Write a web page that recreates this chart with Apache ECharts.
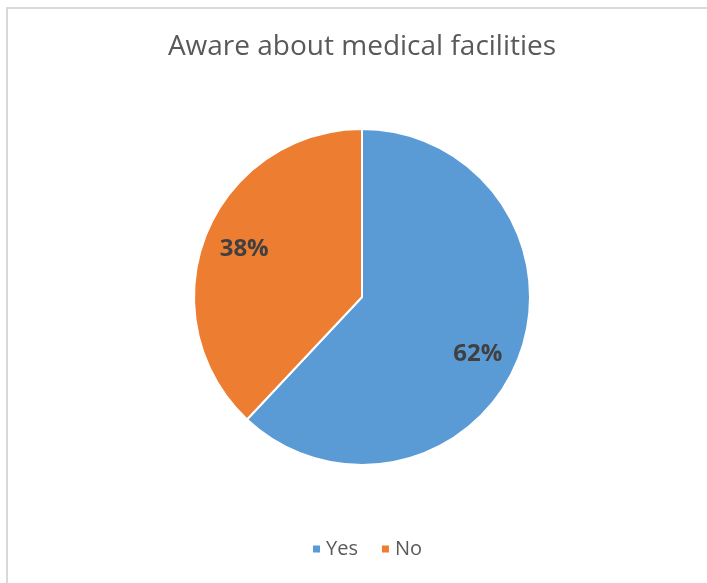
<!DOCTYPE html>
<html><head><meta charset="utf-8">
<script src="https://cdn.jsdelivr.net/npm/echarts@6/dist/echarts.min.js"></script>
<style>
html,body{margin:0;padding:0;background:#fff;}
#frame{position:absolute;left:6px;top:7px;width:720px;height:600px;border-left:2px solid #d9d9d9;border-top:2px solid #d9d9d9;}
#c{position:absolute;left:0;top:0;width:707px;height:583px;}
</style></head>
<body>
<div id="frame"></div>
<div id="c"></div>
<script>
const titleText = 'Aware about medical facilities';
const categories = ['Yes', 'No'];
const values = [62, 38];
const colors = ['#5B9BD5', '#ED7D31'];

const labelOffsets = [[-6, 9], [4, 0]];
const data = categories.map((n, i) => ({ name: n, value: values[i], itemStyle: { color: colors[i] } }));
const chart = echarts.init(document.getElementById('c'), null, { renderer: 'canvas' });
chart.setOption({
  animation: false,
  title: {
    text: titleText, left: 357, textAlign: 'center', top: 28,
    textStyle: { fontFamily: 'Open Sans', fontSize: 28, fontWeight: 'normal', color: '#595959' }
  },
  legend: {
    data: categories, top: 534, left: 306,
    icon: 'rect', itemWidth: 9, itemHeight: 9, itemGap: 22, itemTextGap: 7,
    textStyle: { fontFamily: 'Open Sans', fontSize: 20, color: '#595959' }
  },
  series: [
    {
      type: 'pie', center: [362, 297], radius: [0, 168], startAngle: 90, clockwise: true,
      data: data, label: { show: false }, labelLine: { show: false },
      itemStyle: { borderColor: '#fff', borderWidth: 2 }, silent: true
    },
    {
      type: 'pie', center: [362, 297], radius: [88, 168], startAngle: 90, clockwise: true,
      data: categories.map((n, i) => ({ name: n, value: values[i], label: { offset: labelOffsets[i] } })),
      itemStyle: { color: 'rgba(0,0,0,0)' }, silent: true,
      label: {
        show: true, position: 'inside', formatter: '{d}%',
        fontFamily: 'Open Sans', fontSize: 24, fontWeight: 'bold', color: '#404040'
      },
      labelLine: { show: false }
    }
  ]
});
</script>
</body></html>
